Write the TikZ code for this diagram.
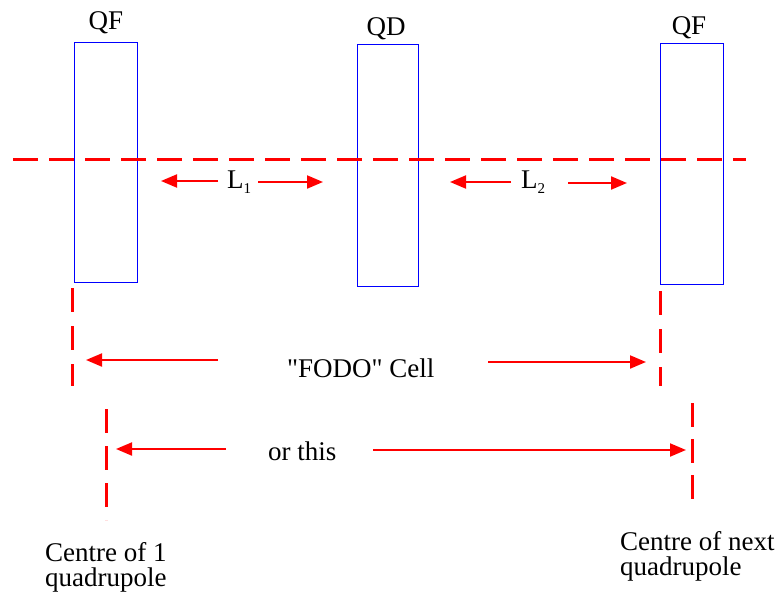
\documentclass[tikz,border=0pt]{standalone}
\usepackage{fontspec}
\setmainfont{Liberation Serif}
\usetikzlibrary{arrows.meta}
\begin{document}
\begin{tikzpicture}[x=1pt,y=-1pt,
  quad/.style={draw=blue,line width=1pt,minimum width=63pt,inner sep=0pt},
  lbl/.style={inner sep=0pt,anchor=base,font=\fontsize{27}{27}\selectfont},
  lblw/.style={inner sep=0pt,anchor=base west,font=\fontsize{27}{27}\selectfont},
  capt/.style={inner sep=0pt,anchor=base west,align=left,font=\fontsize{27}{24.5}\selectfont},
  axis/.style={red,line width=3pt,dash pattern=on 25pt off 11pt},
  vdash/.style={red,line width=3pt,dash pattern=on 24pt off 14pt},
  arr/.style={red,line width=2pt,-{Triangle[length=16pt,width=13pt]}}]
\useasboundingbox (0,0) rectangle (781,594);
% quadrupoles
\node[quad,minimum height=239pt] (qf1) at (105.5,162.5) {};
\node[quad,minimum width=61pt,minimum height=241pt] (qd) at (387.5,165.5) {};
\node[quad,minimum height=240pt] (qf2) at (692,164) {};
\node[lbl] (lqf1) at (106,30) {QF};
\node[lbl] (lqd) at (386,36) {QD};
\node[lbl] (lqf2) at (689,35) {QF};
% axis
\coordinate (axL) at (13,159);
\coordinate (axR) at (746,159);
\draw[axis] (axL) -- (axR);
% L1, L2
\node[lblw] (l1) at (227,188) {L\raisebox{-5pt}{\fontsize{15}{15}\selectfont 1}};
\node[lblw] (l2) at (521,188) {L\raisebox{-5pt}{\fontsize{15}{15}\selectfont 2}};
\coordinate (l1a) at (218,181); \coordinate (l1at) at (161,181);
\coordinate (l1b) at (258,182); \coordinate (l1bt) at (323,182);
\coordinate (l2a) at (511,182); \coordinate (l2at) at (450,182);
\coordinate (l2b) at (568,183); \coordinate (l2bt) at (627,183);
\draw[arr] (l1a) -- (l1at);
\draw[arr] (l1b) -- (l1bt);
\draw[arr] (l2a) -- (l2at);
\draw[arr] (l2b) -- (l2bt);
% FODO cell
\coordinate (v1t) at (72,288); \coordinate (v1b) at (72,386);
\coordinate (v2t) at (660,291); \coordinate (v2b) at (660,386);
\draw[vdash] (v1t) -- (v1b);
\draw[vdash] (v2t) -- (v2b);
\node[lblw] (fodo) at (287,377) {\textquotedbl FODO\textquotedbl{} Cell};
\coordinate (fa) at (218,360); \coordinate (fat) at (86,360);
\coordinate (fb) at (488,362); \coordinate (fbt) at (646,362);
\draw[arr] (fa) -- (fat);
\draw[arr] (fb) -- (fbt);
% or this
\coordinate (v3t) at (106,409); \coordinate (v3b) at (106,520);
\coordinate (v4t) at (692,403); \coordinate (v4b) at (692,499);
\draw[red,line width=3pt,dash pattern=on 24pt off 13pt] (v3t) -- (v3b);
\draw[red,line width=3pt,dash pattern=on 24pt off 12pt] (v4t) -- (v4b);
\node[lblw] (orthis) at (268,460) {or this};
\coordinate (oa) at (226,449); \coordinate (oat) at (116,449);
\coordinate (ob) at (373,450); \coordinate (obt) at (686,450);
\draw[arr] (oa) -- (oat);
\draw[arr] (ob) -- (obt);
% captions
\node[capt] (c1) at (45,586) {Centre of 1\\quadrupole};
\node[capt] (c2) at (620,575) {Centre of next\\quadrupole};
\end{tikzpicture}
\end{document}
